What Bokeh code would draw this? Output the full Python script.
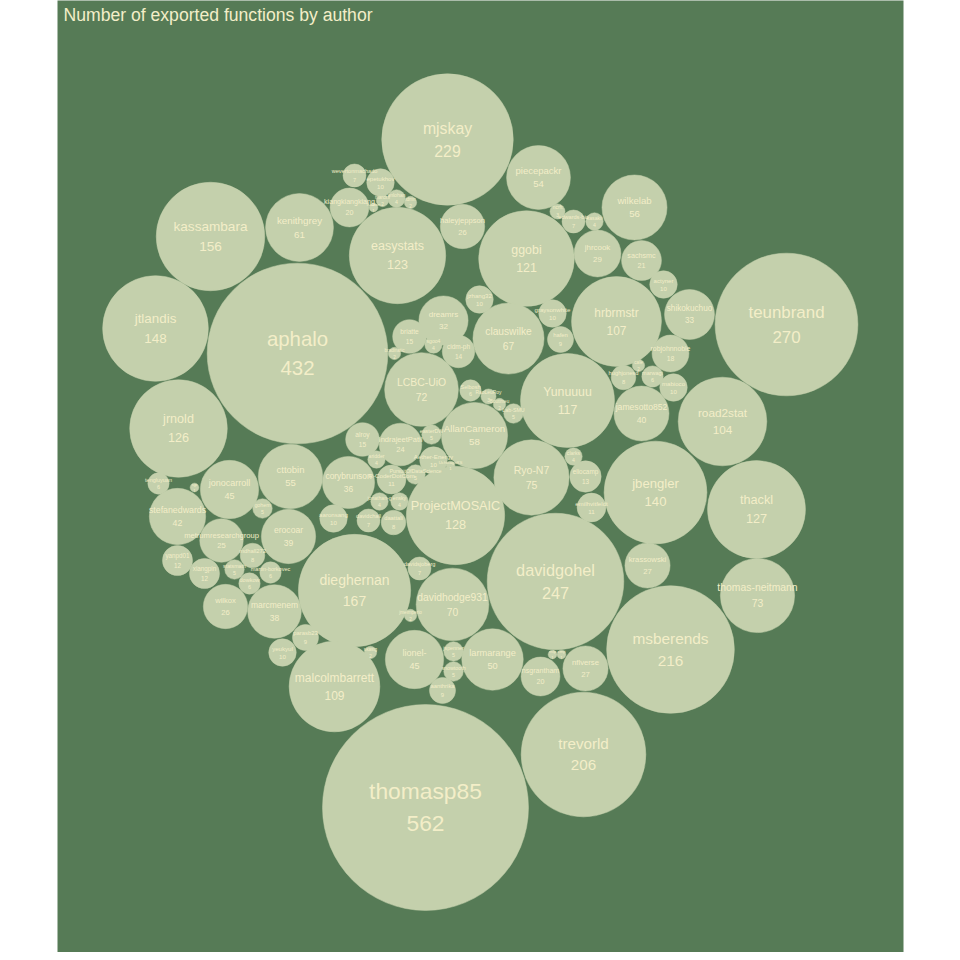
import numpy as np
from bokeh.plotting import figure
from bokeh.models import ColumnDataSource, Range1d, Label
from bokeh.core.properties import value
from bokeh.embed import file_html
from bokeh.resources import INLINE

# packed layout: author, exported functions, circle centre (layout units)
authors = [
    "thomasp85", "aphalo", "teunbrand", "davidgohel", "mjskay", "msberends",
    "trevorld", "dieghernan", "kassambara", "jtlandis", "jbengler",
    "ProjectMOSAIC", "thackl", "jrnold", "easystats", "ggobi", "Yunuuuu",
    "malcolmbarrett", "hrbrmstr", "road2stat", "Ryo-N7", "thomas-neitmann",
    "LCBC-UiO", "davidhodge931", "clauswilke", "kenithgrey", "AllanCameron",
    "wilkelab", "cttobin", "piecepackr", "larmarange", "lionel-",
    "jonocarroll", "stefanedwards", "jamesotto852", "erocoar", "marcmenem",
    "corybrunson", "shikokuchuo", "dreamrs", "jhrcook", "nflverse",
    "krassowski", "haleyjeppson", "wilkox", "metrumresearchgroup",
    "IndrajeetPatil", "sachsmc", "kiangkiangkiang", "nsgrantham",
    "robjohnnoble", "alroy", "briatte", "cidm-ph", "eliocamp", "yanpd01",
    "xiangpin", "emilhvitfeldt", "R-CoderDotCom", "wevertonmachado",
    "epetukhov", "marcinf", "vnlohan", "idmn", "lsaloon",
    "Selbosh", "RaoLeuRoy", "Boutimeu", "Lab-SMU", "UchicagoXS",
    "easterDW", "Aether-Energy", "PursuitOfDataScience", "aridder",
    "jonathan-g", "ensky", "aaronsang", "davidchall", "daattali",
    "tengluyuan", "sjp", "gohem", "mdhall272", "statsmath",
    "martin-borkovec", "dowkow", "parasb23", "yeukyul", "skastg",
    "jmeimperio", "jspenner", "snowtooth", "aanthrika", "davidsjoberg",
    "rnlp", "cmjt", "hughjonesd", "cale", "marwagi", "mabioco", "ncrft",
    "edwards-bio", "kasakii", "actyner", "graysonwhite", "hafen",
    "jzhang32", "sgoo4", "bradinatic", "clarks",
]
n_functions = [
    562, 432, 270, 247, 229, 216,
    206, 167, 156, 148, 140,
    128, 127, 126, 123, 121, 117,
    109, 107, 104, 75, 73,
    72, 70, 67, 61, 58,
    56, 55, 54, 50, 45,
    45, 42, 40, 39, 38,
    36, 33, 32, 29, 27,
    27, 26, 26, 25,
    24, 21, 20, 20,
    18, 15, 15, 14, 13, 12,
    12, 11, 11, 7,
    10, 2, 4, 2, 1,
    6, 3, 2, 5, 1,
    5, 10, 5, 4,
    4, 4, 10, 7, 8,
    6, 1, 5, 8, 5,
    6, 6, 9, 10, 2,
    2, 5, 5, 9, 7,
    1, 1, 8, 2, 6, 10, 3,
    7, 4, 10, 10, 9,
    10, 4, 2, 4,
]
cx = [
    425, 297, 786, 555, 447, 670,
    583, 354, 210, 155, 655,
    455, 756, 178, 397, 526, 567,
    334, 616, 722, 531, 757,
    421, 452, 508, 299, 474,
    634, 290, 538, 492, 414,
    229, 177, 641, 288, 274,
    348, 689, 443, 597, 585,
    647, 462, 225, 221,
    400, 641, 349, 540,
    670, 362, 409, 458, 585, 177,
    204, 591, 391, 354,
    380, 382, 396, 410, 373,
    470, 488, 499, 513, 450,
    431, 433, 415, 376,
    379, 399, 333, 368, 393,
    158, 194, 262, 252, 234,
    270, 249, 305, 282, 370,
    410, 453, 453, 442, 419,
    552, 561, 623, 638, 652, 673, 557,
    573, 594, 663, 552, 560,
    479, 433, 394, 573,
]
cy = [
    807, 353, 324, 581, 139, 649,
    754, 590, 236, 328, 492,
    515, 509, 428, 255, 258, 400,
    686, 321, 421, 477, 595,
    389, 604, 338, 227, 435,
    207, 476, 177, 659, 659,
    489, 516, 413, 536, 611,
    482, 314, 320, 253, 668,
    565, 226, 606, 540,
    444, 260, 207, 676,
    353, 439, 336, 351, 476, 560,
    573, 507, 479, 175,
    182, 200, 198, 202, 207,
    390, 396, 404, 413, 465,
    434, 460, 474, 459,
    501, 501, 518, 520, 522,
    483, 487, 508, 555, 569,
    572, 583, 637, 652, 652,
    615, 651, 671, 690, 568,
    654, 654, 377, 365, 376, 387, 211,
    221, 221, 284, 313, 339,
    299, 344, 353, 456,
]

RADIUS_SCALE = 4.345
vals = np.array(n_functions, dtype=float)
r = RADIUS_SCALE * np.sqrt(vals)
fs = 3.5 + 0.187 * r
off = 0.72 * fs

src = ColumnDataSource(dict(
    x=cx, y=cy, r=r, name=authors, n=[str(v) for v in n_functions],
    y_name=np.array(cy) - off, y_n=np.array(cy) + off,
    fs=["%.1fpx" % f for f in fs],
))

BG = "#567b56"
FILL = "#c4d0ac"
TXT = "#f3eec8"

p = figure(width=952, height=952, output_backend="svg", toolbar_location=None,
           x_range=Range1d(57, 903), y_range=Range1d(952, 0),
           min_border_left=57, min_border_right=49, min_border_top=0,
           min_border_bottom=0)
p.axis.visible = False
p.grid.visible = False
p.outline_line_color = None
p.background_fill_color = BG
p.border_fill_color = "white"

p.circle(x="x", y="y", radius="r", source=src, fill_color=FILL,
         line_color=FILL, line_width=0.5)
p.text(x="x", y="y_name", text="name", source=src, text_font_size="fs",
       text_align="center", text_baseline="middle", text_color=TXT,
       text_font=value("Liberation Sans"))
p.text(x="x", y="y_n", text="n", source=src, text_font_size="fs",
       text_align="center", text_baseline="middle", text_color=TXT,
       text_font=value("Liberation Sans"))

p.add_layout(Label(x=63, y=14, text="Number of exported functions by author",
                   text_font_size="17.6px", text_color=TXT,
                   text_baseline="middle", text_font="Liberation Sans"))

open("out.html", "w").write(file_html(p, INLINE))
